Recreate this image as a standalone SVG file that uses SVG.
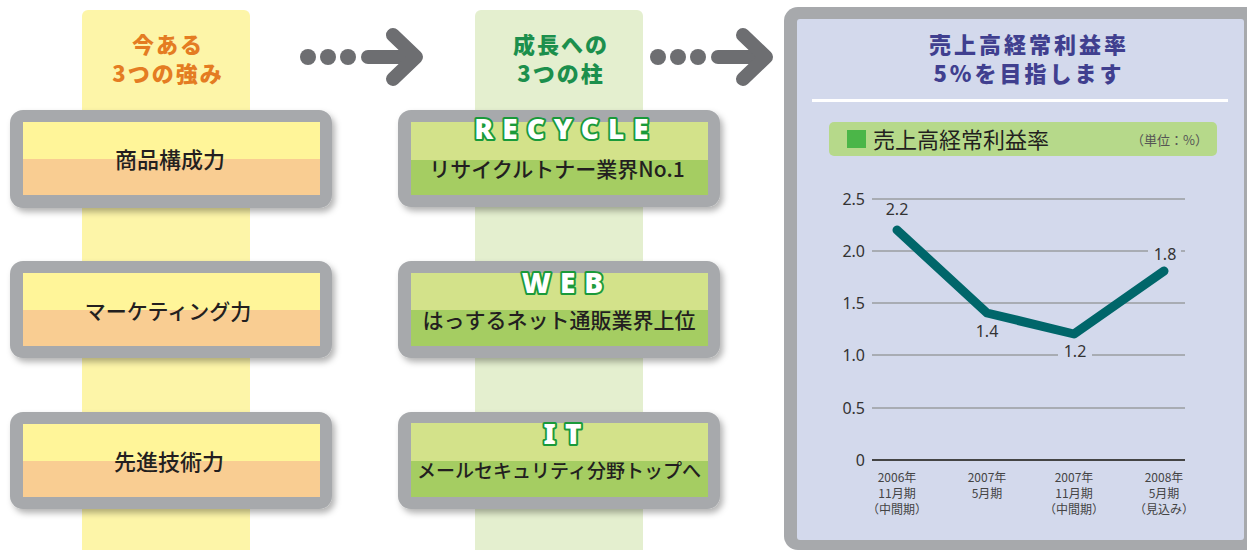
<svg xmlns="http://www.w3.org/2000/svg" width="1247" height="550" viewBox="0 0 1247 550">
<defs>
<filter id="sh" x="-10%" y="-10%" width="130%" height="140%">
<feDropShadow dx="3" dy="4" stdDeviation="3" flood-color="#000" flood-opacity="0.3"/>
</filter>
<style>
.jp{font-family:"Noto Sans CJK JP","Noto Sans",sans-serif}
.box{fill:#a7a9ac}
.bt{fill:#231f20;text-anchor:middle;font-family:"Noto Sans CJK JP","Noto Sans",sans-serif;font-weight:500}
.hd{font-size:22px;font-weight:900;text-anchor:middle;letter-spacing:2px;font-family:"Noto Sans CJK JP","Noto Sans",sans-serif}
.en{font-family:"Noto Sans","DejaVu Sans",sans-serif;font-weight:900;font-size:28px;fill:#fff;stroke:#1a9a3a;stroke-width:4;paint-order:stroke;stroke-linejoin:round;text-anchor:middle;letter-spacing:9px}
.grid{stroke:#9a9ca0;stroke-width:1.5}
.ax{font-family:"Noto Sans","DejaVu Sans",sans-serif;font-size:16px;fill:#333;text-anchor:end}
.vl{font-family:"Noto Sans","DejaVu Sans",sans-serif;font-size:16px;fill:#333;text-anchor:middle}
.xl{font-family:"Noto Sans CJK JP","Noto Sans",sans-serif;font-size:12px;fill:#444;text-anchor:middle}
.arr{fill:none;stroke:#6d6e71;stroke-width:14;stroke-linecap:round;stroke-linejoin:round}
.dot{fill:#6d6e71}
</style>
</defs>
<rect width="1247" height="550" fill="#fff"/>
<!-- column backgrounds -->
<rect x="82" y="10" width="168" height="550" rx="6" fill="#fdf5a8"/>
<rect x="475" y="10" width="168" height="550" rx="6" fill="#e4efcf"/>
<text class="hd" x="168" y="53" fill="#e47c22">今ある</text>
<text class="hd" x="168" y="82" fill="#e47c22">3つの強み</text>
<text class="hd" x="561" y="53" fill="#1c8f4d">成長への</text>
<text class="hd" x="561" y="82" fill="#1c8f4d">3つの柱</text>

<g id="connectors">
<circle class="dot" cx="308" cy="57" r="8"/>
<circle class="dot" cx="328" cy="57" r="8"/>
<circle class="dot" cx="348" cy="57" r="8"/>
<line class="arr" x1="368" y1="57" x2="414" y2="57"/>
<polyline class="arr" points="393,35 416,57 393,79"/>
<circle class="dot" cx="658" cy="57" r="8"/>
<circle class="dot" cx="678" cy="57" r="8"/>
<circle class="dot" cx="698" cy="57" r="8"/>
<line class="arr" x1="718" y1="57" x2="763" y2="57"/>
<polyline class="arr" points="743,35 766,57 743,79"/>
</g>

<!-- left boxes -->
<g id="node-shohin">
<rect class="box" x="10" y="110" width="322" height="98" rx="13" filter="url(#sh)"/>
<rect x="23" y="122" width="297" height="37" fill="#fff599"/>
<rect x="23" y="159" width="297" height="36" fill="#f9cd92"/>
<text class="bt" x="170" y="168" style="font-size:22px">商品構成力</text>
</g>
<g id="node-marketing">
<rect class="box" x="10" y="261" width="322" height="97" rx="13" filter="url(#sh)"/>
<rect x="23" y="273" width="297" height="37" fill="#fff599"/>
<rect x="23" y="310" width="297" height="36" fill="#f9cd92"/>
<text class="bt" x="168" y="319" style="font-size:21px">マーケティング力</text>
</g>
<g id="node-gijutsu">
<rect class="box" x="10" y="412" width="322" height="97" rx="13" filter="url(#sh)"/>
<rect x="23" y="424" width="297" height="37" fill="#fff599"/>
<rect x="23" y="461" width="297" height="36" fill="#f9cd92"/>
<text class="bt" x="169" y="470" style="font-size:22px">先進技術力</text>
</g>

<!-- middle boxes -->
<g id="node-recycle">
<rect class="box" x="398" y="110" width="322" height="97" rx="13" filter="url(#sh)"/>
<rect x="411" y="122" width="297" height="38" fill="#d3e28a"/>
<rect x="411" y="160" width="297" height="35" fill="#a5cd62"/>
<text class="en" x="566" y="139">RECYCLE</text>
<text class="bt" x="557" y="177" style="font-size:21px">リサイクルトナー業界No.1</text>
</g>
<g id="node-web">
<rect class="box" x="398" y="261" width="322" height="97" rx="13" filter="url(#sh)"/>
<rect x="411" y="273" width="297" height="37" fill="#d3e28a"/>
<rect x="411" y="310" width="297" height="36" fill="#a5cd62"/>
<text class="en" x="567" y="293">WEB</text>
<text class="bt" x="559" y="328" style="font-size:21px">はっするネット通販業界上位</text>
</g>
<g id="node-it">
<rect class="box" x="398" y="412" width="322" height="97" rx="13" filter="url(#sh)"/>
<rect x="411" y="423" width="297" height="38" fill="#d3e28a"/>
<rect x="411" y="461" width="297" height="36" fill="#a5cd62"/>
<text class="en" x="567" y="444">IT</text>
<text class="bt" x="559" y="478" style="font-size:19px">メールセキュリティ分野トップへ</text>
</g>

<!-- right panel -->
<g id="node-chart">
<rect x="784" y="7" width="480" height="543" rx="14" fill="#a7a9ac"/>
<rect x="797" y="19" width="447" height="521" rx="3" fill="#d3d9ec"/>
<text class="hd" x="1029" y="53" fill="#403f8f" style="letter-spacing:3px">売上高経常利益率</text>
<text class="hd" x="1029" y="82" fill="#403f8f" style="letter-spacing:3px">5%を目指します</text>
<rect x="812" y="99" width="416" height="3" fill="#fff"/>
<rect x="829" y="122" width="388" height="34" rx="5" fill="#b6d98a"/>
<rect x="847" y="130" width="19" height="18" fill="#4bb648"/>
<text class="jp" x="873" y="148" font-size="22" fill="#231f20">売上高経常利益率</text>
<text class="jp" x="1208" y="145" font-size="13" fill="#555" text-anchor="end">（単位：%）</text>

<line class="grid" x1="872" y1="199" x2="1185" y2="199"/>
<line class="grid" x1="872" y1="251" x2="1185" y2="251"/>
<line class="grid" x1="872" y1="303" x2="1185" y2="303"/>
<line class="grid" x1="872" y1="355" x2="1185" y2="355"/>
<line class="grid" x1="872" y1="408" x2="1185" y2="408"/>
<line x1="872" y1="460" x2="1185" y2="460" stroke="#444" stroke-width="2"/>
<text class="ax" x="865" y="205">2.5</text>
<text class="ax" x="865" y="257">2.0</text>
<text class="ax" x="865" y="309">1.5</text>
<text class="ax" x="865" y="361">1.0</text>
<text class="ax" x="865" y="414">0.5</text>
<text class="ax" x="865" y="466">0</text>

<rect x="1058" y="346" width="34" height="16" fill="#d3d9ec"/>
<rect x="1148" y="244" width="33" height="16" fill="#d3d9ec"/>
<polyline points="897,230 987,313 1074,334 1164,271" fill="none" stroke="#00666a" stroke-width="9" stroke-linecap="round" stroke-linejoin="round"/>
<text class="vl" x="897" y="215">2.2</text>
<text class="vl" x="987" y="337">1.4</text>
<text class="vl" x="1075" y="357">1.2</text>
<text class="vl" x="1165" y="260">1.8</text>

<text class="xl" x="897" y="482">2006年</text>
<text class="xl" x="897" y="498">11月期</text>
<text class="xl" x="897" y="514">（中間期）</text>
<text class="xl" x="987" y="482">2007年</text>
<text class="xl" x="987" y="498">5月期</text>
<text class="xl" x="1074" y="482">2007年</text>
<text class="xl" x="1074" y="498">11月期</text>
<text class="xl" x="1074" y="514">（中間期）</text>
<text class="xl" x="1164" y="482">2008年</text>
<text class="xl" x="1164" y="498">5月期</text>
<text class="xl" x="1164" y="514">（見込み）</text>
</g>
</svg>
